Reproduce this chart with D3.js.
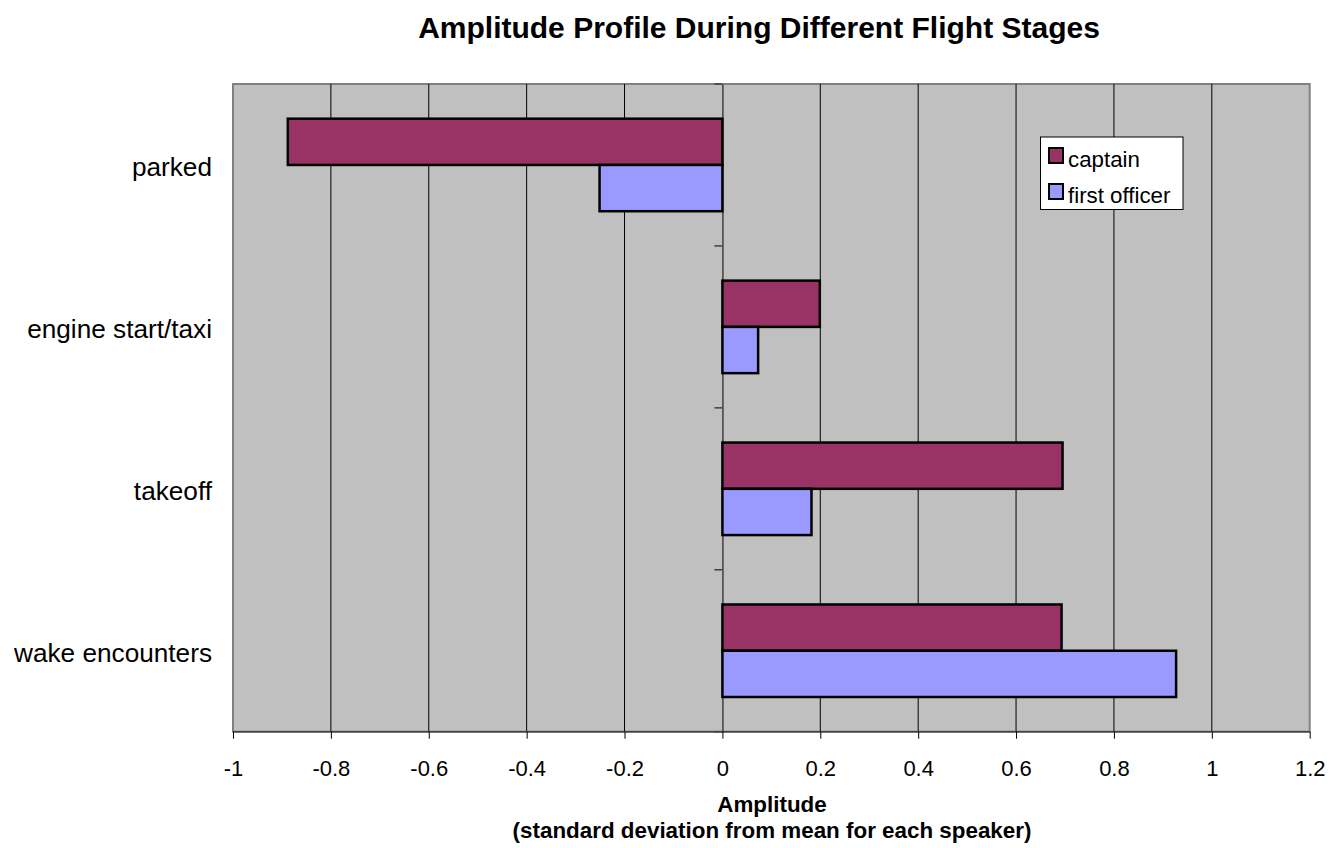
<!DOCTYPE html>
<html>
<head>
<meta charset="utf-8">
<script src="https://cdn.jsdelivr.net/npm/d3@7"></script>
<style>
  html, body { margin: 0; padding: 0; background: #fff; }
  svg { display: block; font-family: Arial, "Liberation Sans", sans-serif; }
</style>
</head>
<body>
<svg id="chart" width="1333" height="848"></svg>
<script>
// Flight stages (top to bottom) and amplitude values per speaker
const stages = ["parked", "engine start/taxi", "takeoff", "wake encounters"];
const seriesNames = ["captain", "first officer"];
const captainValues = [-0.888, 0.199, 0.695, 0.693];
const firstOfficerValues = [-0.251, 0.073, 0.182, 0.927];
const xTickValues = [-1, -0.8, -0.6, -0.4, -0.2, 0, 0.2, 0.4, 0.6, 0.8, 1, 1.2];

const colors = { "captain": "#993366", "first officer": "#9999ff" };

const svg = d3.select("#chart");
const plot = { left: 233, right: 1309.7, top: 84, bottom: 731.7 };

const x = d3.scaleLinear().domain([-1, 1.2]).range([plot.left, plot.right]);
const y = d3.scaleBand().domain(stages).range([plot.top, plot.bottom]).padding(0);

// bar thickness: gap width 150% with two series per category
const barH = y.bandwidth() / 3.5;
const groupOffset = 0.75 * barH;

// plot background
svg.append("rect")
  .attr("x", plot.left).attr("y", plot.top)
  .attr("width", plot.right - plot.left).attr("height", plot.bottom - plot.top)
  .attr("fill", "#c0c0c0").attr("stroke", "#808080").attr("stroke-width", 2);

// vertical gridlines
svg.append("g")
  .selectAll("line")
  .data(xTickValues.filter(v => v !== -1 && v !== 0 && v !== 1.2))
  .join("line")
  .attr("x1", d => x(d)).attr("x2", d => x(d))
  .attr("y1", plot.top).attr("y2", plot.bottom)
  .attr("stroke", "#000").attr("stroke-width", 1);

// category axis at zero
const yAxis = d3.axisLeft(y).tickSize(0).tickFormat("");
svg.append("g")
  .attr("transform", `translate(${x(0)},0)`)
  .call(yAxis)
  .call(g => g.select(".domain").attr("stroke", "#404040").attr("stroke-width", 1.5));

// small category-boundary ticks on the zero axis
const boundaries = stages.map(s => y(s)).concat([plot.bottom]);
svg.append("g")
  .selectAll("line")
  .data(boundaries)
  .join("line")
  .attr("x1", x(0) - 8).attr("x2", x(0))
  .attr("y1", d => d).attr("y2", d => d)
  .attr("stroke", "#404040").attr("stroke-width", 1.5);

// bars
const rows = stages.map((s, i) => [
  { stage: s, series: "captain", value: captainValues[i], k: 0 },
  { stage: s, series: "first officer", value: firstOfficerValues[i], k: 1 }
]).flat();

svg.append("g")
  .selectAll("rect")
  .data(rows)
  .join("rect")
  .attr("x", d => x(Math.min(0, d.value)))
  .attr("width", d => Math.abs(x(d.value) - x(0)))
  .attr("y", d => y(d.stage) + groupOffset + d.k * barH)
  .attr("height", barH)
  .attr("fill", d => colors[d.series])
  .attr("stroke", "#000").attr("stroke-width", 2.5);

// bottom value axis
const xAxis = d3.axisBottom(x).tickValues(xTickValues).tickSize(7).tickPadding(22)
  .tickFormat(d => String(d));
svg.append("g")
  .attr("transform", `translate(0,${plot.bottom})`)
  .call(xAxis)
  .call(g => g.select(".domain").attr("stroke", "#404040").attr("stroke-width", 1.5).attr("d", `M${plot.left},0H${plot.right}`))
  .call(g => g.selectAll(".tick line").attr("stroke", "#000"))
  .call(g => g.selectAll(".tick text")
    .attr("font-size", 22).attr("fill", "#000")
    .attr("font-family", "Arial, 'Liberation Sans', sans-serif"));

// category labels
svg.append("g")
  .selectAll("text")
  .data(stages)
  .join("text")
  .attr("x", 212)
  .attr("y", d => y(d) + y.bandwidth() / 2 + 2)
  .attr("text-anchor", "end")
  .attr("dominant-baseline", "central")
  .attr("font-size", 26.2)
  .text(d => d);

// title
svg.append("text")
  .attr("x", 759).attr("y", 37.5)
  .attr("text-anchor", "middle")
  .attr("font-size", 30).attr("font-weight", "bold")
  .text("Amplitude Profile During Different Flight Stages");

// axis title (two centred lines)
svg.append("text")
  .attr("x", 772).attr("y", 811.5)
  .attr("text-anchor", "middle")
  .attr("font-size", 22.4).attr("font-weight", "bold")
  .text("Amplitude");
svg.append("text")
  .attr("x", 772).attr("y", 838)
  .attr("text-anchor", "middle")
  .attr("font-size", 22.4).attr("font-weight", "bold")
  .text("(standard deviation from mean for each speaker)");

// legend
const legend = svg.append("g");
legend.append("rect")
  .attr("x", 1040.5).attr("y", 137)
  .attr("width", 142.5).attr("height", 72.5)
  .attr("fill", "#fff").attr("stroke", "#000").attr("stroke-width", 1);
const items = legend.selectAll("g.item")
  .data(seriesNames)
  .join("g")
  .attr("class", "item")
  .attr("transform", (d, i) => `translate(0,${i * 36})`);
items.append("rect")
  .attr("x", 1049).attr("y", 148)
  .attr("width", 14).attr("height", 15)
  .attr("fill", d => colors[d]).attr("stroke", "#000").attr("stroke-width", 2);
items.append("text")
  .attr("x", 1068).attr("y", 166.5)
  .attr("font-size", 22.3)
  .text(d => d);
</script>
</body>
</html>
